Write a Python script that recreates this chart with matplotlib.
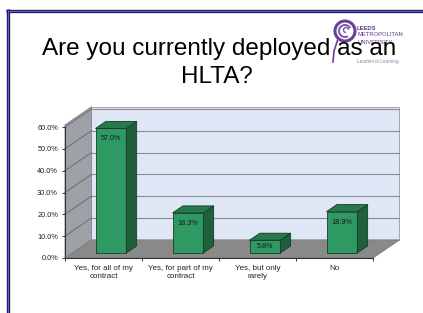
import matplotlib
matplotlib.use("Agg")
import matplotlib.pyplot as plt
from matplotlib.patches import Polygon, Circle, Arc
from matplotlib.lines import Line2D

plt.rcParams['font.family'] = ['Liberation Sans', 'DejaVu Sans']

categories = ["Yes, for all of my\ncontract", "Yes, for part of my\ncontract",
              "Yes, but only\nrarely", "No"]
values = [57.0, 18.3, 5.8, 18.9]
yticks = [0, 10, 20, 30, 40, 50, 60]
ytick_labels = ["0.0%", "10.0%", "20.0%", "30.0%", "40.0%", "50.0%", "60.0%"]
title_lines = ["Are you currently deployed as an", "HLTA?"]

W, H = 423, 313
fig = plt.figure(figsize=(W / 100, H / 100), dpi=100)
fig.patch.set_facecolor('white')

# slide frame
fig.add_artist(Line2D([6 / W, 1], [1 - 10.5 / H] * 2, color='#1c1c70', lw=2.4, solid_capstyle='butt'))
fig.add_artist(Line2D([7.5 / W] * 2, [0, 1 - 9 / H], color='#1c1c70', lw=2.4, solid_capstyle='butt'))
fig.add_artist(Line2D([7.5 / W, 1], [1 - 10.5 / H] * 2, color='#7070b8', lw=0.6))
fig.add_artist(Line2D([7.5 / W] * 2, [0, 1 - 10.5 / H], color='#7070b8', lw=0.6))

# plot axes (front plane)
ax = fig.add_axes([65 / W, 1 - 258 / H, 308 / W, 131 / H])
ax.set_xlim(0, 4)
ax.set_ylim(0, 60)
ax.patch.set_alpha(0)

kx, ky = 0.344, 8.3     # oblique depth offsets (data units per unit depth)
top = 61

# walls and floor
ax.add_patch(Polygon([(kx, ky), (4 + kx, ky), (4 + kx, top + ky), (kx, top + ky)],
                     closed=True, facecolor='#dfe7f7', edgecolor='#9a9a9a', lw=0.6,
                     clip_on=False, zorder=0))
ax.add_patch(Polygon([(0, 0), (kx, ky), (kx, top + ky), (0, top)],
                     closed=True, facecolor='#9ea2a8', edgecolor='#8a8a8a', lw=0.6,
                     clip_on=False, zorder=0))
ax.add_patch(Polygon([(0, 0), (4, 0), (4 + kx, ky), (kx, ky)],
                     closed=True, facecolor='#898989', edgecolor='#7a7a7a', lw=0.6,
                     clip_on=False, zorder=0.5))
for t in yticks[1:]:
    ax.plot([kx, 4 + kx], [t + ky, t + ky], color='#8c8c8c', lw=0.8, zorder=0.2, clip_on=False)
    ax.plot([0, kx], [t, t + ky], color='#6f7277', lw=0.8, zorder=0.2, clip_on=False)

# bars
z0, z1 = 0.28, 0.67
w = 0.40
b = z0 * ky
dz = z1 - z0
xs = [i + 0.5 + z0 * kx for i in range(len(values))]
ax.bar(xs, values, width=w, bottom=b, color='#2f9963', edgecolor='#163d26', lw=0.6, zorder=3)
for x, v in zip(xs, values):
    r = x + w / 2
    l = x - w / 2
    ax.add_patch(Polygon([(r, b), (r + dz * kx, b + dz * ky), (r + dz * kx, b + v + dz * ky), (r, b + v)],
                         closed=True, facecolor='#1f5f3b', edgecolor='#163d26', lw=0.6, zorder=3,
                         clip_on=False))
    ax.add_patch(Polygon([(l, b + v), (r, b + v), (r + dz * kx, b + v + dz * ky), (l + dz * kx, b + v + dz * ky)],
                         closed=True, facecolor='#27794b', edgecolor='#163d26', lw=0.6, zorder=3,
                         clip_on=False))
    ax.text(x, b + v - min(4.8, v / 2.2), f"{v:.1f}%", ha='center', va='center',
            fontsize=5.2, color='#1a1a1a', zorder=4)

# axes styling
for s in ['top', 'right']:
    ax.spines[s].set_visible(False)
ax.spines['left'].set_color('#333333')
ax.spines['bottom'].set_color('#333333')
ax.spines['left'].set_linewidth(0.8)
ax.spines['bottom'].set_linewidth(0.8)
ax.spines['left'].set_zorder(5)
ax.spines['bottom'].set_zorder(5)
ax.set_yticks(yticks)
ax.set_yticklabels(ytick_labels)
ax.tick_params(axis='y', length=2.5, width=0.7, pad=2.5, labelsize=5.3, colors='#333333',
               labelcolor='#222222')
ax.set_xticks([i + 0.5 for i in range(len(categories))])
ax.set_xticklabels(categories)
ax.set_xticks(range(len(categories) + 1), minor=True)
ax.tick_params(axis='x', which='major', length=0, pad=5, labelsize=5.8, labelcolor='#222222')
ax.tick_params(axis='x', which='minor', length=2.5, width=0.7, colors='#333333')

# logo
lax = fig.add_axes([325 / W, 1 - 66 / H, 40 / W, 50 / H])
lax.set_xlim(0, 40)
lax.set_ylim(0, 50)
lax.set_aspect('equal')
lax.axis('off')
lax.add_patch(Circle((20, 35), 10, facecolor='none', edgecolor='#6a3f95', lw=2.2))
lax.add_patch(Arc((20, 35), 12, 12, theta1=30, theta2=300, edgecolor='#7b55a6', lw=1.4))
lax.add_patch(Arc((21, 36), 5, 5, theta1=0, theta2=270, edgecolor='#7b55a6', lw=1.0))
lax.plot([13, 9, 8], [27, 15, 4], color='#6a3f95', lw=1.2)
fig.text(357 / W, 1 - 28 / H, "LEEDS", fontsize=4.2, fontweight='bold', color='#5e3c8a', va='center')
fig.text(357 / W, 1 - 35 / H, "METROPOLITAN", fontsize=4.2, color='#5e3c8a', va='center')
fig.text(357 / W, 1 - 42 / H, "UNIVERSITY", fontsize=4.2, color='#5e3c8a', va='center')
fig.text(357 / W, 1 - 62 / H, "Leaders in Learning", fontsize=3.3, color='#8d80a5', va='center')

# title
fig.text(219 / W, 1 - 55 / H, title_lines[0], fontsize=17.5, ha='center', va='baseline', color='black')
fig.text(217 / W, 1 - 83 / H, title_lines[1], fontsize=17.5, ha='center', va='baseline', color='black')

fig.savefig("out.png", dpi=100, facecolor='white')
